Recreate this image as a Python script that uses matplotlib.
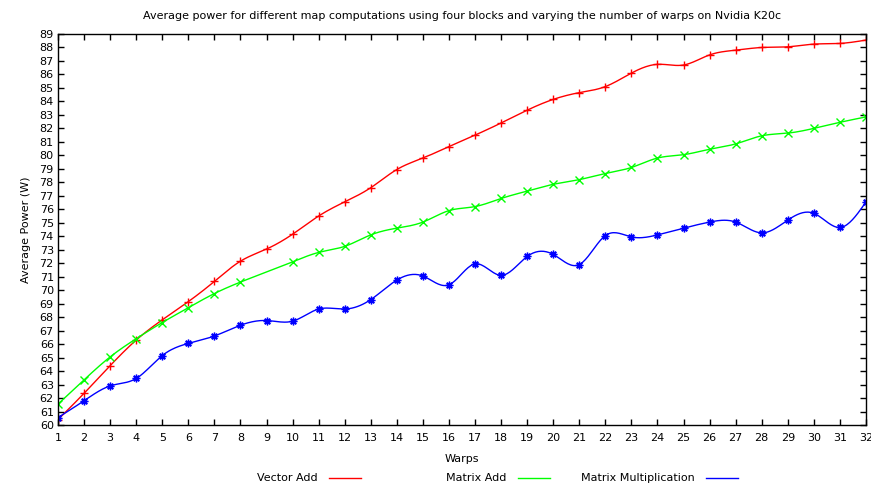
import numpy as np
import matplotlib
matplotlib.use('Agg')
import matplotlib.pyplot as plt
from matplotlib.lines import Line2D

warps = list(range(1, 33))

vector_add = [60.4, 62.35, 64.4, 66.3, 67.8, 69.15, 70.65, 72.15, 73.05, 74.15,
              75.5, 76.55, 77.6, 78.95, 79.8, 80.65, 81.5, 82.4, 83.35, 84.15,
              84.65, 85.1, 86.1, 86.75, 86.7, 87.45, 87.8, 88.0, 88.05, 88.25,
              88.3, 88.55]

# no sample at 9 warps for matrix add
matrix_add_warps = [1, 2, 3, 4, 5, 6, 7, 8, 10, 11, 12, 13, 14, 15, 16, 17,
                    18, 19, 20, 21, 22, 23, 24, 25, 26, 27, 28, 29, 30, 31, 32]
matrix_add = [61.55, 63.35, 65.05, 66.4, 67.6, 68.7, 69.75, 70.6, 72.1,
              72.8, 73.25, 74.1, 74.6, 75.05, 75.9, 76.2, 76.8, 77.35, 77.85,
              78.2, 78.65, 79.1, 79.8, 80.05, 80.45, 80.85, 81.45, 81.65, 82.0,
              82.45, 82.85]

matrix_mul = [60.55, 61.8, 62.9, 63.45, 65.15, 66.05, 66.6, 67.4, 67.75, 67.7,
              68.6, 68.6, 69.3, 70.75, 71.05, 70.4, 71.95, 71.1, 72.5, 72.65,
              71.9, 74.05, 73.95, 74.1, 74.6, 75.05, 75.05, 74.25, 75.2, 75.7,
              74.65, 76.55]

labels = ['Vector Add', 'Matrix Add', 'Matrix Multiplication']
colors = ['#ff0000', '#00ff00', '#0000ff']
markers = ['+', 'x', (8, 2, 0)]


def natural_spline(x, y, n=600):
    # natural cubic spline, like gnuplot "smooth csplines"
    x = np.asarray(x, float)
    y = np.asarray(y, float)
    m = len(x)
    h = np.diff(x)
    A = np.zeros((m, m))
    r = np.zeros(m)
    A[0, 0] = 1
    A[-1, -1] = 1
    for i in range(1, m - 1):
        A[i, i - 1] = h[i - 1]
        A[i, i] = 2 * (h[i - 1] + h[i])
        A[i, i + 1] = h[i]
        r[i] = 6 * ((y[i + 1] - y[i]) / h[i] - (y[i] - y[i - 1]) / h[i - 1])
    M = np.linalg.solve(A, r)
    xs = np.linspace(x[0], x[-1], n)
    k = np.clip(np.searchsorted(x, xs) - 1, 0, m - 2)
    t1 = x[k + 1] - xs
    t0 = xs - x[k]
    hk = h[k]
    ys = (M[k] * t1**3 + M[k + 1] * t0**3) / (6 * hk) \
        + (y[k] / hk - M[k] * hk / 6) * t1 \
        + (y[k + 1] / hk - M[k + 1] * hk / 6) * t0
    return xs, ys


fig = plt.figure(figsize=(8.71, 4.87), dpi=100)
ax = fig.add_axes([58/871, 1 - 425/487, 808/871, 391/487])

series = [(warps, vector_add), (matrix_add_warps, matrix_add), (warps, matrix_mul)]
for (xv, yv), c, mk in zip(series, colors, markers):
    xs, ys = natural_spline(xv, yv)
    ax.plot(xs, ys, color=c, lw=1)
    ax.plot(xv, yv, ls='none', marker=mk, color=c, ms=5.5, mew=1)

ax.set_xlim(1, 32)
ax.set_ylim(60, 89)
ax.set_xticks(warps)
ax.set_yticks(range(60, 90))
ax.tick_params(direction='in', length=4, width=1, labelsize=8,
               top=True, right=True, colors='black', pad=6)
ax.tick_params(axis='y', pad=3)
for s in ax.spines.values():
    s.set_linewidth(1)

ax.set_title('Average power for different map computations using four blocks and varying the number of warps on Nvidia K20c',
             fontsize=8, pad=11)
ax.set_xlabel('Warps', fontsize=8, labelpad=8)
ax.set_ylabel('Average Power (W)', fontsize=8, labelpad=6)

# gnuplot-style key under the plot: text right-aligned, sample to its right
for i, (lab, c) in enumerate(zip(labels, colors)):
    x0 = 318 + 188.5 * i
    yk = 1 - 478 / 487
    fig.text(x0 / 871, yk, lab, ha='right', va='center', fontsize=8)
    fig.add_artist(Line2D([(x0 + 11) / 871, (x0 + 43) / 871],
                          [yk, yk], color=c, lw=1, transform=fig.transFigure))

fig.savefig('out.png', dpi=100)
